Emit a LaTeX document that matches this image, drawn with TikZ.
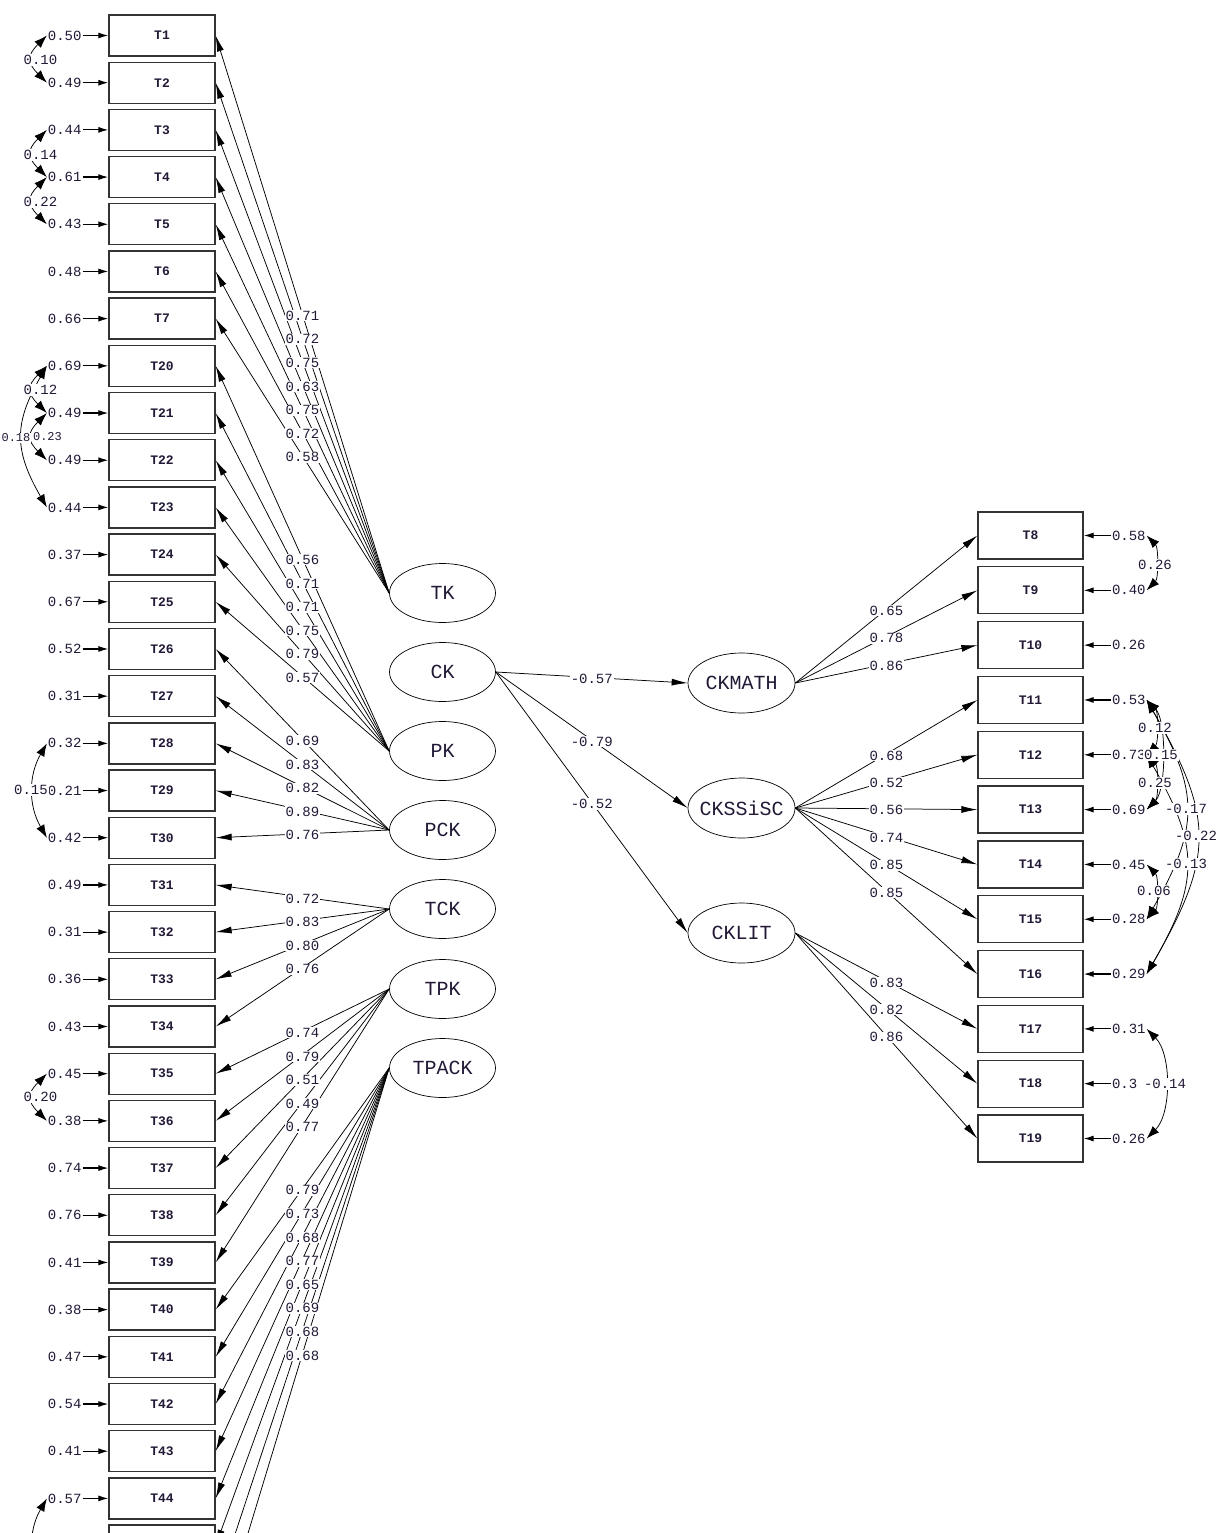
\documentclass[tikz,border=0pt]{standalone}
\usepackage{fontspec}
\setmonofont{Liberation Mono}
\usetikzlibrary{arrows.meta,shapes.geometric}
\definecolor{txt}{RGB}{35,25,55}
\begin{document}
\begin{tikzpicture}[x=1pt,y=-1pt,
  lbox/.style={draw=black!80, line width=1.3pt, minimum width=106pt, minimum height=41pt, inner sep=0pt, text=txt, font=\ttfamily\bfseries\fontsize{13}{13}\selectfont},
  rbox/.style={lbox, minimum width=105pt, minimum height=47pt},
  lat/.style={draw, ellipse, line width=0.7pt, minimum width=106pt, minimum height=59pt, inner sep=0pt, text=txt, font=\ttfamily\fontsize{20}{20}\selectfont},
  num/.style={fill=white, inner sep=0.8pt, text=txt, font=\ttfamily\fontsize{14}{14}\selectfont},
  smallnum/.style={num, font=\ttfamily\fontsize{12}{12}\selectfont},
  load/.style={line width=0.75pt, -{Latex[length=16pt,width=7pt]}},
  errarr/.style={line width=1.2pt, -{Latex[length=10pt,width=6pt]}},
  cov/.style={line width=0.75pt, {Latex[length=13pt,width=9pt]}-{Latex[length=13pt,width=9pt]}},
]
\useasboundingbox (0,0) rectangle (1219,1533);
\clip (0,0) rectangle (1219,1533);

% ---------- left indicators ----------
\foreach \k/\nm/\ev in {0/1/0.50, 1/2/0.49, 2/3/0.44, 3/4/0.61, 4/5/0.43, 5/6/0.48, 6/7/0.66,
  7/20/0.69, 8/21/0.49, 9/22/0.49, 10/23/0.44, 11/24/0.37, 12/25/0.67, 13/26/0.52, 14/27/0.31,
  15/28/0.32, 16/29/0.21, 17/30/0.42, 18/31/0.49, 19/32/0.31, 20/33/0.36, 21/34/0.43,
  22/35/0.45, 23/36/0.38, 24/37/0.74, 25/38/0.76, 26/39/0.41, 27/40/0.38, 28/41/0.47,
  29/42/0.54, 30/43/0.41, 31/44/0.57} {
  \node[lbox] (T\nm) at (162,{35.5+47.19*\k}) {T\nm};
  \node[num,anchor=east] (eT\nm) at (82.5,{35.5+47.19*\k}) {\ev};
  \draw[errarr] (eT\nm.east) -- (T\nm.west);
}
\node[lbox] (T45) at (162,{35.5+47.19*32}) {};
\node[lbox] (T46) at (162,{35.5+47.19*33}) {};
\node[lbox] (T47) at (162,{35.5+47.19*34}) {};
\coordinate (eT46) at (47,{35.5+47.19*33});

% ---------- right indicators ----------
\foreach \k/\nm/\ev in {0/8/0.58, 1/9/0.40, 2/10/0.26, 3/11/0.53, 4/12/0.73, 5/13/0.69,
  6/14/0.45, 7/15/0.28, 8/16/0.29, 9/17/0.31, 10/18/0.3, 11/19/0.26} {
  \node[rbox] (T\nm) at (1030.5,{535.5+54.82*\k}) {T\nm};
  \node[num,anchor=west] (eT\nm) at (1111,{535.5+54.82*\k}) {\ev};
  \draw[errarr] (eT\nm.west) -- (T\nm.east);
}

% ---------- latent variables ----------
\foreach \nm/\yy in {TK/593, CK/672, PK/751, PCK/830, TCK/909, TPK/989, TPACK/1068}
  \node[lat] (\nm) at (442.5,\yy) {\makebox[0pt]{\nm}};
\foreach \nm/\yy in {CKMATH/683, CKSSiSC/808, CKLIT/933}
  \node[lat, minimum width=107pt, minimum height=60pt] (\nm) at (741.5,\yy) {\makebox[0pt]{\nm}};

% ---------- loadings ----------
\def\leftloads{TK/1/0.71, TK/2/0.72, TK/3/0.75, TK/4/0.63, TK/5/0.75, TK/6/0.72, TK/7/0.58,
  PK/20/0.56, PK/21/0.71, PK/22/0.71, PK/23/0.75, PK/24/0.79, PK/25/0.57,
  PCK/26/0.69, PCK/27/0.83, PCK/28/0.82, PCK/29/0.89, PCK/30/0.76,
  TCK/31/0.72, TCK/32/0.83, TCK/33/0.80, TCK/34/0.76,
  TPK/35/0.74, TPK/36/0.79, TPK/37/0.51, TPK/38/0.49, TPK/39/0.77,
  TPACK/40/0.79, TPACK/41/0.73, TPACK/42/0.68, TPACK/43/0.77, TPACK/44/0.65,
  TPACK/45/0.69, TPACK/46/0.68, TPACK/47/0.68}
\def\rightloads{CKMATH/8/0.65, CKMATH/9/0.78, CKMATH/10/0.86,
  CKSSiSC/11/0.68, CKSSiSC/12/0.52, CKSSiSC/13/0.56, CKSSiSC/14/0.74, CKSSiSC/15/0.85, CKSSiSC/16/0.85,
  CKLIT/17/0.83, CKLIT/18/0.82, CKLIT/19/0.86}
\foreach \src/\nm/\val in \leftloads
  \draw[load] (\src.west) -- (T\nm.east);
\foreach \src/\nm/\val in \rightloads
  \draw[load] (\src.east) -- (T\nm.west);
\foreach \src/\nm/\val in \leftloads
  \path (\src.west) -- (T\nm.east) node[num,pos=0.5,yshift=-1.5pt] {\val};
\foreach \src/\nm/\val in \rightloads
  \path (\src.east) -- (T\nm.west) node[num,pos=0.5,yshift=-1.5pt] {\val};

% ---------- structural paths ----------
\draw[load] (CK.east) -- (CKMATH.west) node[num,pos=0.5,yshift=-1.5pt] {-0.57};
\draw[load] (CK.east) -- (CKSSiSC.west) node[num,pos=0.5,yshift=-1.5pt] {-0.79};
\draw[load] (CK.east) -- (CKLIT.west) node[num,pos=0.5,yshift=-1.5pt] {-0.52};

% ---------- error covariances, left ----------
\draw[cov] (eT1.west) to[out=225,in=135,looseness=1.53] (eT2.west);
\draw[cov] (eT3.west) to[out=225,in=135,looseness=1.53] (eT4.west);
\draw[cov] (eT4.west) to[out=225,in=135,looseness=1.53] (eT5.west);
\draw[cov] (eT20.west) to[out=225,in=135,looseness=1.53] (eT21.west);
\draw[cov] (eT21.west) to[out=225,in=135,looseness=1.53] (eT22.west);
\draw[cov] (eT20.west) to[out=240,in=120,looseness=1.2] (eT23.west);
\draw[cov] (eT28.west) to[out=240,in=120,looseness=1.01] (eT30.west);
\draw[cov] (eT35.west) to[out=225,in=135,looseness=1.53] (eT36.west);
\draw[cov] (eT44.west) to[out=240,in=120,looseness=1.01] (eT46);

\node[num] at (40.5,60) {0.10};
\node[num] at (40.5,155) {0.14};
\node[num] at (40.5,202) {0.22};
\node[num] at (40.5,390) {0.12};
\node[smallnum] at (47.5,437) {0.23};
\node[smallnum] at (16,438) {0.18};
\node[num] at (31,790) {0.15};
\node[num] at (40.5,1097) {0.20};

% ---------- error covariances, right ----------
\draw[cov] (eT8.east) to[out=-45,in=45,looseness=0.79] (eT9.east);
\draw[cov] (eT11.east) to[out=-45,in=45,looseness=0.79] (eT12.east);
\draw[cov] (eT11.east) to[out=-45,in=45,looseness=0.66] (eT13.east);
\draw[cov] (eT12.east) to[out=-45,in=45,looseness=0.79] (eT13.east);
\draw[cov] (eT11.east) to[out=-60,in=60,looseness=1.24] (eT15.east);
\draw[cov] (eT11.east) to[out=-60,in=60,looseness=1.27] (eT16.east);
\draw[cov] (eT12.east) to[out=-60,in=60,looseness=1.24] (eT16.east);
\draw[cov] (eT14.east) to[out=-45,in=45,looseness=0.79] (eT15.east);
\draw[cov] (eT17.east) to[out=-45,in=45,looseness=0.83] (eT19.east);

\node[num] at (1155,565) {0.26};
\node[num] at (1155,728) {0.12};
\node[num] at (1161,755) {0.15};
\node[num] at (1155,783) {0.25};
\node[num] at (1186,809) {-0.17};
\node[num] at (1196,836) {-0.22};
\node[num] at (1186,864) {-0.13};
\node[num] at (1154,891) {0.06};
\node[num] at (1165,1084) {-0.14};
\end{tikzpicture}
\end{document}
